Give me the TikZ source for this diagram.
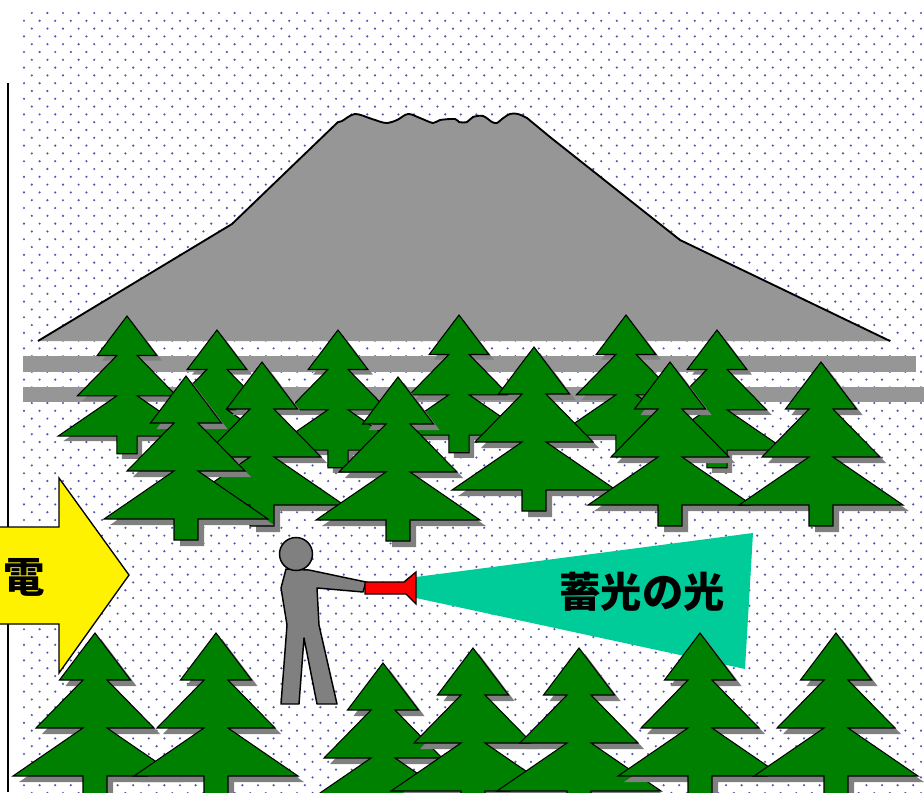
\documentclass[tikz,border=0pt]{standalone}
\usepackage{fontspec}
\newfontfamily\jpfont{Noto Sans CJK JP}

\definecolor{firgreen}{RGB}{0,128,0}
\definecolor{hillgray}{RGB}{150,150,150}
\definecolor{shadegray}{RGB}{128,128,128}
\definecolor{glowteal}{RGB}{0,204,153}
\definecolor{dotblue}{RGB}{84,84,176}

% outline of one fir, apex at the origin (pixel units)
\def\firpath{(0,0) -- (35.5,47) -- (12,47) -- (59,95) -- (12,95) -- (82,143) -- (12,143)
  -- (12,164) -- (-12,164) -- (-12,143) -- (-82,143) -- (-12,95) -- (-59,95) -- (-12,47)
  -- (-35.5,47) -- cycle}

\tikzset{
  firline/.style={fill=firgreen, draw=black, line width=0.8pt, line join=miter},
  firshade/.style={fill=shadegray},
  pics/fir/.style={code={
    \fill[firshade, shift={(6,6)}] \firpath;
    \draw[firline] \firpath;
  }},
  hillline/.style={draw=black, line width=1.4pt, fill=hillgray, line join=round},
  bandfill/.style={fill=hillgray},
  walker/.style={fill=shadegray, draw=black, line width=1.1pt, line join=round},
  torch/.style={fill=red, draw=black, line width=1pt, line join=miter},
  beam/.style={fill=glowteal},
  bigarrow/.style={fill=yellow, draw=black, line width=1pt, line join=miter},
  jptext/.style={font=\jpfont\bfseries\fontsize{31}{31}\selectfont, inner sep=0pt}
}

\begin{document}
\begin{tikzpicture}[x=0.75pt, y=-0.75pt]
  \useasboundingbox (0,0) rectangle (924,792);
  \fill[white] (0,0) rectangle (924,792);
  \clip (0,0) rectangle (924,792);

  % dotted ground
  \foreach \r in {0,...,100} {
    \pgfmathsetmacro\dotx{24+7.8*(1-mod(\r,2))}
    \fill[dotblue] \foreach \c in {0,...,58} {({\dotx+15.6*\c},{13+7.8*\r}) circle[radius=0.9pt]};
  }

  \draw[line width=1.2pt] (8,83) -- (8,792);

  % mountain and the two roads
  \draw[hillline] (38,341) -- (232,224) -- (338,122)
    -- plot[smooth, tension=0.55] coordinates {(338,122) (342,121) (355,114) (372,119) (386,123)
      (397,120) (408,114) (420,118) (433,123) (440,120) (455,119) (459,122) (467,122)
      (473,117) (483,116) (492,122) (497,123) (502,119) (510,114) (518,114) (527,118)}
    -- (550,137) -- (680,240) -- (890,341);
  \fill[bandfill] (23,356) rectangle (916,372);
  \fill[bandfill] (23,387) rectangle (924,402);

  % back row
  \foreach \fx/\fy in {127/316, 217/330, 338/330, 459/315, 626/315, 717/330}
    \pic[scale=0.84] at (\fx,\fy) {fir};
  % middle row
  \foreach \fx/\fy in {262/362, 186/376, 398/377, 534/347, 670/362, 821/362}
    \pic at (\fx,\fy) {fir};

  % man with the torch
  \draw[walker] (286,569) -- (309,570) -- (366,582) -- (363,592) -- (317,588) -- (319,625)
    -- (337,704) -- (317,704) -- (304,638) -- (299,704) -- (281,704) -- (287,625)
    -- (281,588) -- cycle;
  \draw[walker] (296,554) circle[radius=16.5];
  \fill[beam] (416,577) -- (753,533) -- (745,669) -- (416,598) -- cycle;
  \draw[torch] (365,582) -- (404,582) -- (416,572) -- (416,604) -- (406,594) -- (365,594) -- cycle;
  \node[jptext] (glowword) at (642,592) {蓄光の光};

  % front row
  \foreach \fx/\fy in {95/633, 216/633, 383/663, 473/648, 579/648, 700/633, 836/633}
    \pic at (\fx,\fy) {fir};

  \draw[bigarrow] (-5,527) -- (59,527) -- (59,478) -- (129,575) -- (59,673) -- (59,624)
    -- (-5,624) -- cycle;
  \node[jptext] (powerword) at (24,577) {電};
\end{tikzpicture}
\end{document}
